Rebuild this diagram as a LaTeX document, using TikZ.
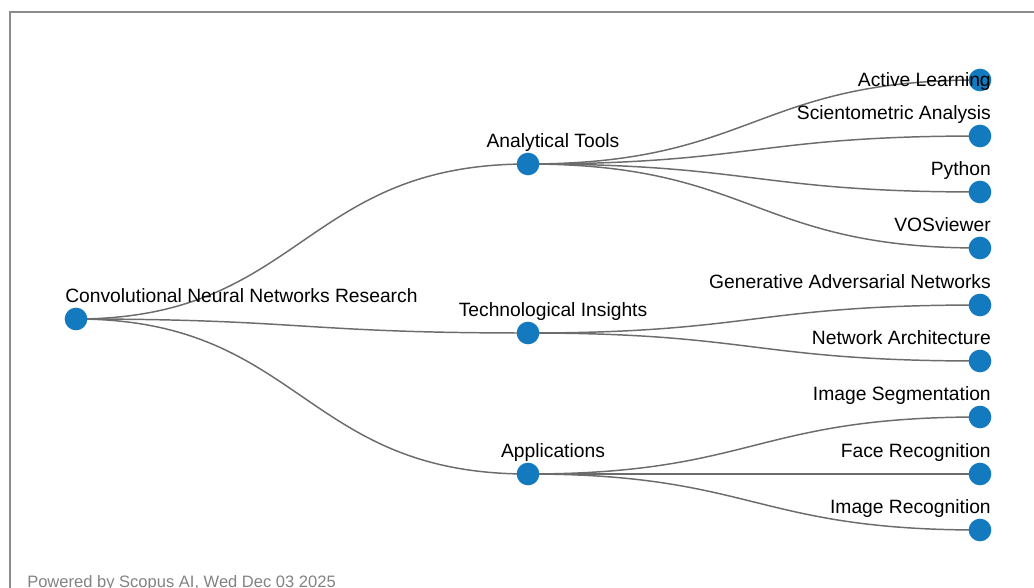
\documentclass[tikz,border=0pt]{standalone}
\usepackage{fontspec}
\setmainfont{Liberation Sans}
\usetikzlibrary{calc,backgrounds}
\definecolor{nodeblue}{RGB}{19,122,191}
\definecolor{linkgray}{RGB}{108,108,108}
\definecolor{framegray}{RGB}{140,140,140}
\definecolor{footgray}{RGB}{130,130,130}
\newcommand\tlink[2]{\draw[link] let \p1=(#1.center), \p2=(#2.center) in (\p1) .. controls ({(\x1+\x2)/2},\y1) and ({(\x1+\x2)/2},\y2) .. (\p2);}
\begin{document}
\begin{tikzpicture}[x=0.75pt,y=-0.75pt,
  link/.style={draw=linkgray, line width=1.1pt},
  dot/.style={circle, fill=nodeblue, minimum size=17pt, inner sep=0pt},
  lbl/.style={font=\fontsize{14.45}{16}\selectfont, text=black, inner sep=0pt}]
\useasboundingbox (0,0) rectangle (1034,588);
\draw[framegray, line width=1.4pt] (10,590) -- (10,12) -- (1036,12);
% nodes
\node[dot] (root) at (76,319) {};
\node[dot] (at) at (528,164) {};
\node[dot] (ti) at (528,333) {};
\node[dot] (ap) at (528,474) {};
\node[dot] (l1) at (980,80) {};
\node[dot] (l2) at (980,136) {};
\node[dot] (l3) at (980,192) {};
\node[dot] (l4) at (980,248) {};
\node[dot] (l5) at (980,305) {};
\node[dot] (l6) at (980,361) {};
\node[dot] (l7) at (980,417) {};
\node[dot] (l8) at (980,474) {};
\node[dot] (l9) at (980,530) {};
% links
\begin{pgfonlayer}{background}
\tlink{root}{at}
\tlink{root}{ti}
\tlink{root}{ap}
\tlink{at}{l1}
\tlink{at}{l2}
\tlink{at}{l3}
\tlink{at}{l4}
\tlink{ti}{l5}
\tlink{ti}{l6}
\tlink{ap}{l7}
\tlink{ap}{l8}
\tlink{ap}{l9}
\end{pgfonlayer}
% labels
\node[lbl, anchor=base west] (rootl) at ($(root)+(-11,-16.5)$) {Convolutional Neural Networks Research};
\node[lbl, anchor=base] (atl) at ($(at)+(25,-16.5)$) {Analytical Tools};
\node[lbl, anchor=base] (til) at ($(ti)+(25,-16.5)$) {Technological Insights};
\node[lbl, anchor=base] (apl) at ($(ap)+(25,-16.5)$) {Applications};
\node[lbl, anchor=base east] (l1l) at ($(l1)+(11,7)$) {Active Learning};
\node[lbl, anchor=base east] (l2l) at ($(l2)+(11,-16.5)$) {Scientometric Analysis};
\node[lbl, anchor=base east] (l3l) at ($(l3)+(11,-16.5)$) {Python};
\node[lbl, anchor=base east] (l4l) at ($(l4)+(11,-16.5)$) {VOSviewer};
\node[lbl, anchor=base east] (l5l) at ($(l5)+(11,-16.5)$) {Generative Adversarial Networks};
\node[lbl, anchor=base east] (l6l) at ($(l6)+(11,-16.5)$) {Network Architecture};
\node[lbl, anchor=base east] (l7l) at ($(l7)+(11,-16.5)$) {Image Segmentation};
\node[lbl, anchor=base east] (l8l) at ($(l8)+(11,-16.5)$) {Face Recognition};
\node[lbl, anchor=base east] (l9l) at ($(l9)+(11,-16.5)$) {Image Recognition};
\node[anchor=base west, inner sep=0pt, font=\fontsize{12.4}{14}\selectfont, text=footgray] (foot) at (27,587) {Powered by Scopus AI, Wed Dec 03 2025};
\end{tikzpicture}
\end{document}
